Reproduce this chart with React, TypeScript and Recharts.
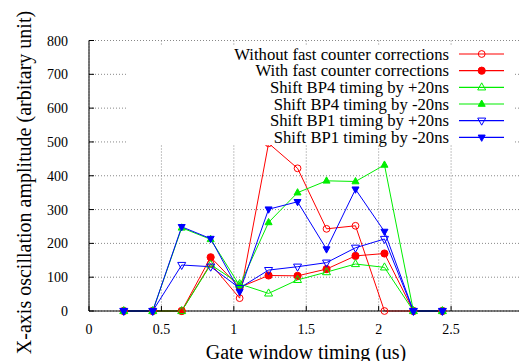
import React from "react"
import { LineChart, Line, XAxis, YAxis, CartesianGrid, Legend, Label, ReferenceLine } from "recharts"

const gateTiming = [0.24, 0.44, 0.64, 0.84, 1.04, 1.24, 1.44, 1.64, 1.84, 2.04, 2.24, 2.44]

const withoutCorr = [0, 0, 0, 140, 38, 496, 422, 243, 252, 0, 0, 0]
const withCorr = [0, 0, 0, 159, 70, 105, 104, 124, 163, 170, 0, 0]
const bp4Plus = [0, 0, 0, 137, 80, 52, 92, 115, 139, 129, 0, 0]
const bp4Minus = [0, 0, 246, 212, 75, 262, 350, 385, 383, 432, 0, 0]
const bp1Plus = [0, 0, 136, 131, 68, 121, 131, 143, 187, 213, 0, 0]
const bp1Minus = [0, 0, 249, 214, 57, 301, 323, 183, 360, 235, 0, 0]

const seriesNames = [
  "Without fast counter corrections",
  "With fast counter corrections",
  "Shift BP4 timing by +20ns",
  "Shift BP4 timing by -20ns",
  "Shift BP1 timing by +20ns",
  "Shift BP1 timing by -20ns",
]
const seriesValues = [withoutCorr, withCorr, bp4Plus, bp4Minus, bp1Plus, bp1Minus]
const seriesKeys = ["s0", "s1", "s2", "s3", "s4", "s5"]
const seriesColors = ["#ff0000", "#ff0000", "#00ee00", "#00ee00", "#0000ff", "#0000ff"]
const seriesMarkers = ["circleOpen", "circle", "triUpOpen", "triUp", "triDownOpen", "triDown"]

const xTicks = [0, 0.5, 1, 1.5, 2, 2.5, 3]
const xMax = 3
const yTicks = [0, 100, 200, 300, 400, 500, 600, 700, 800]

const data = gateTiming.map((x, i) => {
  const row: any = { x }
  seriesKeys.forEach((k, s) => (row[k] = seriesValues[s][i]))
  return row
})

const FONT = "'Liberation Serif', 'Times New Roman', serif"

function Marker({ shape, cx, cy, color }: any) {
  if (cx == null || cy == null) return null
  switch (shape) {
    case "circleOpen":
      return <circle cx={cx} cy={cy} r={3.4} fill="none" stroke={color} strokeWidth={1} />
    case "circle":
      return <circle cx={cx} cy={cy} r={3.6} fill={color} stroke={color} />
    case "triUpOpen":
      return (
        <polygon
          points={`${cx},${cy - 4.5} ${cx - 4},${cy + 2.6} ${cx + 4},${cy + 2.6}`}
          fill="none"
          stroke={color}
        />
      )
    case "triUp":
      return (
        <polygon
          points={`${cx},${cy - 4} ${cx - 3.5},${cy + 2.3} ${cx + 3.5},${cy + 2.3}`}
          fill={color}
          stroke={color}
        />
      )
    case "triDownOpen":
      return (
        <polygon
          points={`${cx - 4},${cy - 2.6} ${cx + 4},${cy - 2.6} ${cx},${cy + 4.5}`}
          fill="none"
          stroke={color}
        />
      )
    default:
      return (
        <polygon
          points={`${cx - 3.5},${cy - 2.3} ${cx + 3.5},${cy - 2.3} ${cx},${cy + 4}`}
          fill={color}
          stroke={color}
        />
      )
  }
}

// serif tick labels, drawn at the positions recharts hands in
const XTick = ({ x, y, payload }: any) =>
  payload.value === xMax ? null : (
    <text x={x} y={y + 10} textAnchor="middle" fontFamily={FONT} fontSize={14} fill="#000">
      {payload.value}
    </text>
  )
const YTick = ({ x, y, payload }: any) => (
  <text x={x} y={y + 5} textAnchor="end" fontFamily={FONT} fontSize={14} fill="#000">
    {payload.value}
  </text>
)

const KeyBox = ({ payload }: any) => {
  const rows = seriesNames.map((name, i) => {
    const entry = (payload || []).find((p: any) => p.value === name)
    return { name, color: entry ? entry.color : seriesColors[i], shape: seriesMarkers[i] }
  })
  return (
    <svg width={385} height={99} style={{ display: "block", overflow: "visible" }}>
      {rows.map((r, i) => {
        const y = 8 + i * 16.67
        return (
          <g key={r.name}>
            <text x={321} y={y + 5.5} textAnchor="end" fontFamily={FONT} fontSize={16.7} fill="#000">
              {r.name}
            </text>
            <line x1={331} x2={376} y1={y} y2={y} stroke={r.color} strokeWidth={1.2} />
            <Marker shape={r.shape} cx={353.7} cy={y} color={r.color} />
          </g>
        )
      })}
    </svg>
  )
}

export default function App() {
  return (
    <div
      style={{
        margin: "-8px 0 0 -8px",
        width: 527,
        height: 361,
        overflow: "hidden",
        position: "relative",
        fontFamily: FONT,
      }}
    >
      <LineChart width={540} height={361} data={data} margin={{ top: 40.5, right: 16.5, bottom: 0, left: 0 }}>
        <CartesianGrid stroke="#888" strokeDasharray="1 2" />
        <XAxis
          dataKey="x"
          type="number"
          domain={[0, xMax]}
          ticks={xTicks}
          interval={0}
          height={50}
          tickSize={-5}
          tickMargin={18}
          tick={<XTick />}
          stroke="#000"
          tickLine={{ stroke: "#000" }}
          axisLine={{ stroke: "#000" }}
        >
          <Label
            content={() => (
              <text x={306} y={359} textAnchor="middle" fontFamily={FONT} fontSize={20} fill="#000">
                Gate window timing (us)
              </text>
            )}
          />
        </XAxis>
        <XAxis
          xAxisId="top"
          orientation="top"
          dataKey="x"
          type="number"
          domain={[0, xMax]}
          ticks={xTicks}
          interval={0}
          height={0}
          tickSize={-5}
          tick={false}
          stroke="#000"
        />
        <YAxis
          type="number"
          domain={[0, 800]}
          ticks={yTicks}
          interval={0}
          width={89}
          tickSize={-5}
          tickMargin={26}
          tick={<YTick />}
          stroke="#000"
        >
          <Label
            content={() => (
              <text
                transform="translate(30.5,182.5) rotate(-90)"
                textAnchor="middle"
                fontFamily={FONT}
                fontSize={20}
                fill="#000"
              >
                X-axis oscillation amplitude (arbitary unit)
              </text>
            )}
          />
        </YAxis>
        <YAxis
          yAxisId="right"
          orientation="right"
          type="number"
          domain={[0, 800]}
          ticks={yTicks}
          interval={0}
          width={0}
          tickSize={-5}
          tick={false}
          stroke="#000"
        />
        {/* last x tick label sits on the plot edge; hang it off a line at x = 3 */}
        <ReferenceLine x={xMax} stroke="#000" ifOverflow="visible">
          <Label value={String(xMax)} position="bottom" offset={12} fill="#000" fontFamily={FONT} fontSize={14} />
        </ReferenceLine>
        <Legend
          layout="vertical"
          align="center"
          verticalAlign="middle"
          content={<KeyBox />}
          wrapperStyle={{ position: "absolute", left: 128, top: 46, width: 385, height: 99, background: "#fff" }}
        />
        {seriesKeys.map((k, i) => (
          <Line
            key={k}
            dataKey={k}
            name={seriesNames[i]}
            stroke={seriesColors[i]}
            strokeWidth={1}
            isAnimationActive={false}
            dot={(p: any) => (
              <Marker key={`${k}-${p.index}`} shape={seriesMarkers[i]} cx={p.cx} cy={p.cy} color={seriesColors[i]} />
            )}
            activeDot={false}
          />
        ))}
      </LineChart>
    </div>
  )
}
